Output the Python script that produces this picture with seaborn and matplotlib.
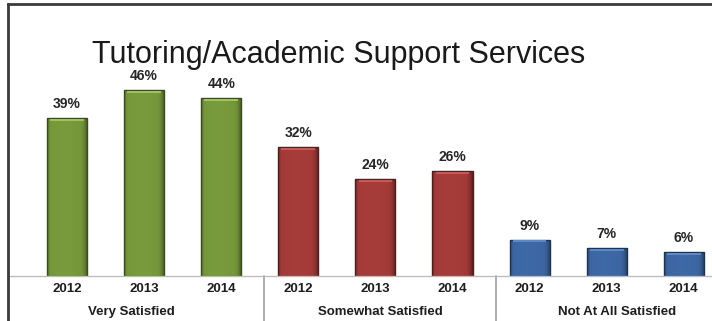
import numpy as np
import pandas as pd
import matplotlib
matplotlib.use("Agg")
import matplotlib.pyplot as plt
import matplotlib.colors as mcolors
from matplotlib.lines import Line2D
import seaborn as sns

# ---- data ----
groups = ["Very Satisfied", "Somewhat Satisfied", "Not At All Satisfied"]
years = ["2012", "2013", "2014"]
very_satisfied = [39, 46, 44]
somewhat_satisfied = [32, 24, 26]
not_satisfied = [9, 7, 6]
title = "Tutoring/Academic Support Services"

group_colors = {
    "Very Satisfied": "#74953a",
    "Somewhat Satisfied": "#a03a37",
    "Not At All Satisfied": "#3b65a0",
}

rows = []
for g, vals in zip(groups, [very_satisfied, somewhat_satisfied, not_satisfied]):
    for y, v in zip(years, vals):
        rows.append({"group": g, "year": y, "bar": f"{g} {y}", "value": v})
df = pd.DataFrame(rows)

sns.set_theme(style="white")
plt.rcParams["font.family"] = ["Liberation Sans", "DejaVu Sans"]

W, H = 712, 321
fig = plt.figure(figsize=(W / 100, H / 100), dpi=100)
fig.patch.set_facecolor("white")

# plot area: baseline at y=276px, frame top at 4px, frame left at 8px
base_px, top_px, left_px = 276, 4, 8
ax = fig.add_axes([left_px / W, (H - base_px) / H, 1 - left_px / W, (base_px - top_px) / H])

sns.barplot(data=df, x="bar", y="value", hue="group", palette=group_colors,
            dodge=False, width=0.52, legend=False, ax=ax, saturation=1)

px_per_unit = 77.1
ax.set_xlim((left_px - 67) / px_per_unit, (W - 67) / px_per_unit)
ax.set_ylim(0, (base_px - top_px) / 4.04)

# shaded bar faces with a dark rim and a light top edge
for patch in ax.patches:
    x0, y0 = patch.get_x(), patch.get_y()
    w, h = patch.get_width(), patch.get_height()
    if h <= 0:
        continue
    base = np.array(mcolors.to_rgb(patch.get_facecolor()))
    t = np.linspace(0, 1, 64)
    shade = 1.0 + 0.04 * np.sin(np.pi * np.clip(t * 1.15, 0, 1)) - 0.40 * np.clip((t - 0.84) / 0.16, 0, 1) ** 1.5
    shade -= 0.25 * np.clip((0.07 - t) / 0.07, 0, 1)
    img = np.clip(base[None, :] * shade[:, None], 0, 1)[None, :, :]
    im = ax.imshow(img, extent=[x0, x0 + w, y0, y0 + h], aspect="auto",
                   interpolation="bilinear", zorder=patch.get_zorder() + 0.1)
    im.set_clip_path(patch)
    patch.set_edgecolor(tuple(base * 0.5))
    patch.set_linewidth(1.0)
    patch.set_zorder(patch.get_zorder() + 0.2)
    patch.set_facecolor("none")
    light = tuple(np.clip(base * 1.25 + 0.05, 0, 1))
    ax.plot([x0 + w * 0.08, x0 + w * 0.92], [y0 + h - 0.45, y0 + h - 0.45],
            color=light, lw=1.4, solid_capstyle="butt", zorder=patch.get_zorder() + 0.1)

for cont in ax.containers:
    ax.bar_label(cont, fmt="{:.0f}%", padding=5, fontsize=10,
                 fontweight="bold", color="#262626")

# axis styling
ax.set_xlabel("")
ax.set_ylabel("")
ax.set_yticks([])
ax.set_xticks(range(len(df)), list(df["year"]))
ax.tick_params(axis="x", length=0, pad=5, labelsize=9.5, labelcolor="#1e1e1e")
for lab in ax.get_xticklabels():
    lab.set_fontweight("bold")

ax.spines["right"].set_visible(False)
ax.spines["left"].set_visible(False)
ax.spines["top"].set_color("#3a3a3a")
ax.spines["top"].set_linewidth(2)
ax.spines["bottom"].set_color("#bdbdbd")
ax.spines["bottom"].set_linewidth(1.0)

trans = ax.get_xaxis_transform()
drop = -(H - base_px) / (base_px - top_px)
for b in [2.5 + 0.055, 5.5 + 0.064]:
    ax.plot([b, b], [0, drop], transform=trans, color="#a6a6a6",
            lw=1.3, clip_on=False)

label_y = (base_px - 312) / (base_px - top_px)
for g, cx in zip(groups, [0.83, 4.06, 7.13]):
    ax.text(cx, label_y, g, transform=trans, ha="center", va="center",
            fontsize=9.5, fontweight="bold", color="#1e1e1e", clip_on=False)

# outer frame on the left side
fig.add_artist(Line2D([left_px / W, left_px / W], [0, 1 - top_px / H],
                      transform=fig.transFigure, color="#3a3a3a", lw=2))

fig.text(339 / W, 1 - 63 / H, title, ha="center", va="baseline",
         fontsize=22, color="#1a1a1a")

fig.savefig("out.png", dpi=100, facecolor="white")
